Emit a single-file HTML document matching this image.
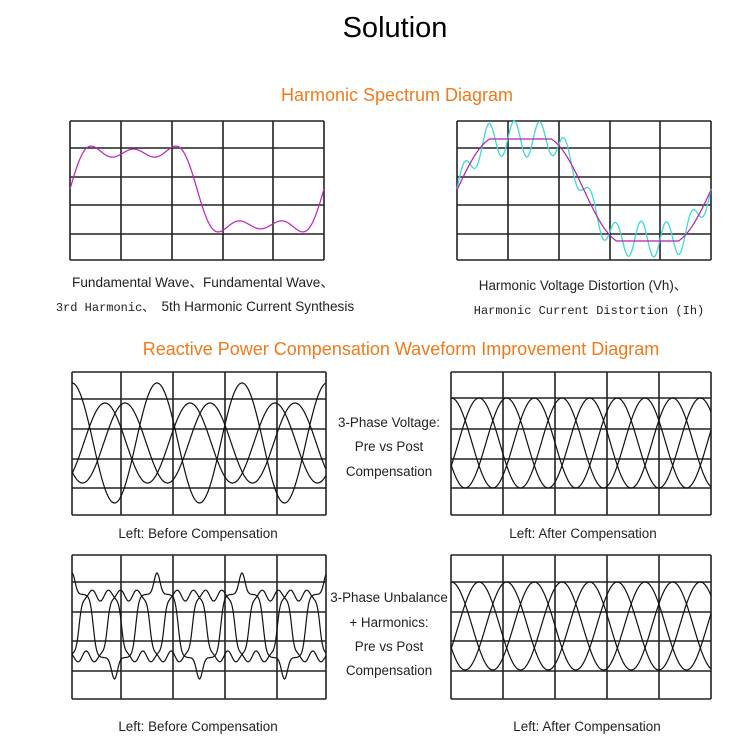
<!DOCTYPE html>
<html><head><meta charset="utf-8">
<style>
html,body{margin:0;padding:0;background:#fff;width:750px;height:750px;overflow:hidden}
svg{position:absolute;left:0;top:0}
</style></head><body>
<svg id="s" width="750" height="750" xmlns="http://www.w3.org/2000/svg" font-family="Liberation Sans, sans-serif">
<text x="395" y="37" font-size="29" text-anchor="middle" fill="#000">Solution</text>
<text x="397" y="101" font-size="18" text-anchor="middle" fill="#f07a1a">Harmonic Spectrum Diagram</text>
<text x="401" y="355" font-size="18" text-anchor="middle" fill="#f07a1a">Reactive Power Compensation Waveform Improvement Diagram</text>
<text x="203" y="287" font-size="13.6" text-anchor="middle" fill="#222">Fundamental Wave、Fundamental Wave、</text>
<text x="205" y="311" font-size="13.6" text-anchor="middle" fill="#222"><tspan style="font-family:'Liberation Mono',monospace;font-size:12px">3rd Harmonic、 </tspan>5th Harmonic Current Synthesis</text>
<text x="583" y="290" font-size="13.4" text-anchor="middle" fill="#222">Harmonic Voltage Distortion (Vh)、</text>
<text x="589" y="314" text-anchor="middle" fill="#222" style="font-family:'Liberation Mono',monospace;font-size:12px">Harmonic Current Distortion (Ih)</text>
<text x="389" y="427" font-size="13.4" text-anchor="middle" fill="#222">3-Phase Voltage:</text>
<text x="389" y="451" font-size="13.4" text-anchor="middle" fill="#222">Pre vs Post</text>
<text x="389" y="476" font-size="13.4" text-anchor="middle" fill="#222">Compensation</text>
<text x="198" y="538" font-size="13.4" text-anchor="middle" fill="#222">Left: Before Compensation</text>
<text x="583" y="538" font-size="13.4" text-anchor="middle" fill="#222">Left: After Compensation</text>
<text x="389" y="602" font-size="13.4" text-anchor="middle" fill="#222">3-Phase Unbalance</text>
<text x="389" y="627" font-size="13.4" text-anchor="middle" fill="#222">+ Harmonics:</text>
<text x="389" y="651" font-size="13.4" text-anchor="middle" fill="#222">Pre vs Post</text>
<text x="389" y="675" font-size="13.4" text-anchor="middle" fill="#222">Compensation</text>
<text x="198" y="731" font-size="13.4" text-anchor="middle" fill="#222">Left: Before Compensation</text>
<text x="587" y="731" font-size="13.4" text-anchor="middle" fill="#222">Left: After Compensation</text>
</svg>
<script>
var s=document.getElementById('s'),NS='http://www.w3.org/2000/svg';
function el(t,a){var e=document.createElementNS(NS,t);for(var k in a)e.setAttribute(k,a[k]);s.appendChild(e);return e;}
function grid(xs,ys){var d='';xs.forEach(function(x){d+='M'+x+' '+ys[0]+'V'+ys[ys.length-1]});ys.forEach(function(y){d+='M'+xs[0]+' '+y+'H'+xs[xs.length-1]});el('path',{d:d,stroke:'#222','stroke-width':1.6,fill:'none'});}
function curve(x0,x1,f,col,w){var d='';for(var x=x0;x<=x1+0.001;x+=0.5){d+=(d?'L':'M')+x.toFixed(1)+' '+f(x).toFixed(1);}el('path',{d:d,stroke:col,'stroke-width':w||1.2,fill:'none'});}
var P=Math.PI;
grid([70,121,172,223,273,324],[121,148,177,205,234,260]);
curve(70,324,function(x){var t=(x-70)/254*2*P;return 189-46*(Math.sin(t)+Math.sin(3*t)/3+Math.sin(5*t)/5);},'#c020c0',1.2);
grid([457,508,559,610,660,711],[121,148,177,205,234,260]);
function mag(t){var v=1.25*Math.sin(t)+0.15*Math.sin(3*t);return Math.max(-1,Math.min(1,v));}
curve(457,711,function(x){var t=(x-457)/254*2*P;return 189-50*mag(t)-18*Math.sin(10*t)*(0.6+0.4*Math.abs(Math.sin(t)));},'#40d8d8',1.3);
curve(457,711,function(x){var t=(x-457)/254*2*P;return 190-51*mag(t);},'#b020b0',1.2);
grid([72,121,173,225,277,326],[372,399,429,459,488,515]);
var per=85;
curve(72,326,function(x){return 443-60*Math.cos((x-72)/per*2*P);},'#111',1.2);
curve(72,326,function(x){return 443-40*Math.cos((x-105)/per*2*P);},'#111',1.2);
curve(72,326,function(x){return 443-40*Math.cos((x-125)/per*2*P);},'#111',1.2);
grid([451,503,555,607,659,711],[372,398,429,459,488,515]);
[0,1,2].forEach(function(k){curve(451,711,function(x){return 443-45*Math.cos((x-479)/83*2*P+k*2*P/3);},'#111',1.2);});
grid([72,121,173,225,277,326],[555,582,612,641,671,699]);
function distA(t){var s1=Math.sin(t);return 0.6*Math.tanh(4*s1)+0.4*Math.pow(s1,21);}
function distB(t){var s1=Math.sin(t);return 0.62*Math.tanh(4*s1)-0.12*Math.sin(5*t)*Math.abs(s1);}
curve(72,326,function(x){var t=(x-72)/per*2*P+P/2;return 626-53*distA(t);},'#111',1.2);
curve(72,326,function(x){var t=(x-72)/per*2*P+P/2+2*P/3;return 626-50*distB(t);},'#111',1.2);
curve(72,326,function(x){var t=(x-72)/per*2*P+P/2+4*P/3;return 626-50*distB(t);},'#111',1.2);
grid([451,503,555,607,659,711],[555,582,612,641,671,699]);
[0,1,2].forEach(function(k){curve(451,711,function(x){return 626-44*Math.cos((x-479)/83*2*P+k*2*P/3);},'#111',1.2);});
</script>
</body></html>
